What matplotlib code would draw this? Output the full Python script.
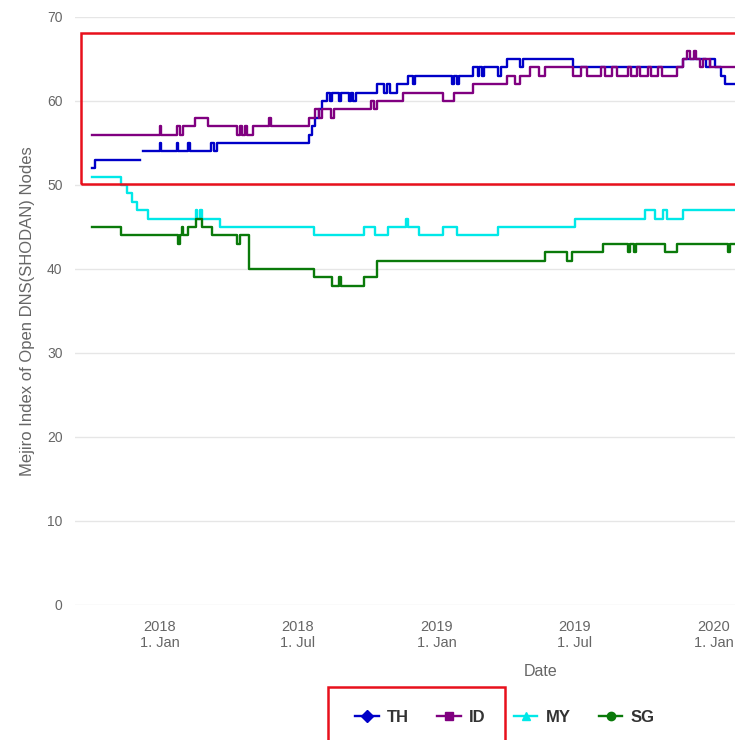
import numpy as np
import pandas as pd
import matplotlib
matplotlib.use("Agg")
import matplotlib.pyplot as plt
from matplotlib.lines import Line2D
from matplotlib.patches import Rectangle

plt.rcParams['font.family'] = ['Liberation Sans', 'DejaVu Sans']

# step change points (date, value); NaN marks a gap in the data
th_dates = ["2017-10-04", "2017-10-08", "2017-12-06", "2017-12-10", "2018-01-01", "2018-01-03",
            "2018-01-23", "2018-01-25", "2018-02-07", "2018-02-09", "2018-03-09", "2018-03-13",
            "2018-03-17", "2018-07-16", "2018-07-20", "2018-07-25", "2018-07-30", "2018-08-03",
            "2018-08-09", "2018-08-13", "2018-08-16", "2018-08-25", "2018-08-28", "2018-09-07",
            "2018-09-10", "2018-09-13", "2018-09-16", "2018-10-14", "2018-10-23", "2018-10-27",
            "2018-10-31", "2018-11-09", "2018-11-24", "2018-11-30", "2018-12-03", "2019-01-21",
            "2019-01-24", "2019-01-27", "2019-01-30", "2019-02-18", "2019-02-24", "2019-02-26",
            "2019-03-02", "2019-03-04", "2019-03-23", "2019-03-26", "2019-04-04", "2019-04-20",
            "2019-04-24", "2019-06-30", "2019-11-22", "2019-12-22", "2019-12-27", "2020-01-03",
            "2020-01-10", "2020-01-16", "2020-01-31"]
th_values = [52, 53, np.nan, 54, 55, 54,
             55, 54, 55, 54, 55, 54,
             55, 56, 57, 58, 59, 60,
             61, 60, 61, 60, 61, 60,
             61, 60, 61, 62, 61, 62,
             61, 62, 63, 62, 63, 62,
             63, 62, 63, 64, 63, 64,
             63, 64, 63, 64, 65, 64,
             65, 64, 65, 64, 65, 64,
             63, 62, 62]

id_dates = ["2017-10-04", "2018-01-01", "2018-01-03", "2018-01-23", "2018-01-28", "2018-02-01",
            "2018-02-16", "2018-03-05", "2018-04-12", "2018-04-16", "2018-04-19", "2018-04-23",
            "2018-04-26", "2018-05-04", "2018-05-25", "2018-05-27", "2018-07-16", "2018-07-25",
            "2018-07-30", "2018-08-03", "2018-08-14", "2018-08-18", "2018-10-06", "2018-10-10",
            "2018-10-14", "2018-11-18", "2019-01-09", "2019-01-24", "2019-02-18", "2019-04-04",
            "2019-04-14", "2019-04-20", "2019-05-04", "2019-05-15", "2019-05-24", "2019-06-30",
            "2019-07-10", "2019-07-18", "2019-08-05", "2019-08-10", "2019-08-20", "2019-08-26",
            "2019-09-10", "2019-09-14", "2019-09-22", "2019-09-26", "2019-10-06", "2019-10-10",
            "2019-10-20", "2019-10-25", "2019-11-14", "2019-11-22", "2019-11-27", "2019-12-01",
            "2019-12-06", "2019-12-08", "2019-12-14", "2019-12-18", "2019-12-27", "2020-01-31"]
id_values = [56, 57, 56, 57, 56, 57,
             58, 57, 56, 57, 56, 57,
             56, 57, 58, 57, 58, 59,
             58, 59, 58, 59, 60, 59,
             60, 61, 60, 61, 62, 63,
             62, 63, 64, 63, 64, 63,
             64, 63, 64, 63, 64, 63,
             64, 63, 64, 63, 64, 63,
             64, 63, 64, 65, 66, 65,
             66, 65, 64, 65, 64, 64]

my_dates = ["2017-10-04", "2017-11-10", "2017-11-19", "2017-11-25", "2017-12-02", "2017-12-16",
            "2018-02-17", "2018-02-19", "2018-02-23", "2018-02-26", "2018-03-21", "2018-07-23",
            "2018-09-27", "2018-10-12", "2018-10-29", "2018-11-21", "2018-11-24", "2018-12-08",
            "2019-01-09", "2019-01-28", "2019-03-23", "2019-07-02", "2019-10-03", "2019-10-16",
            "2019-10-26", "2019-11-01", "2019-11-22", "2020-01-31"]
my_values = [51, 50, 49, 48, 47, 46,
             47, 46, 47, 46, 45, 44,
             45, 44, 45, 46, 45, 44,
             45, 44, 45, 46, 47, 46,
             47, 46, 47, 47]

sg_dates = ["2017-10-04", "2017-11-11", "2018-01-25", "2018-01-27", "2018-01-30", "2018-02-01",
            "2018-02-07", "2018-02-17", "2018-02-26", "2018-03-11", "2018-04-12", "2018-04-16",
            "2018-04-29", "2018-07-23", "2018-08-16", "2018-08-25", "2018-08-28", "2018-09-27",
            "2018-10-14", "2019-05-24", "2019-06-22", "2019-06-28", "2019-08-08", "2019-09-10",
            "2019-09-13", "2019-09-18", "2019-09-21", "2019-10-29", "2019-11-14", "2020-01-20",
            "2020-01-22", "2020-01-31"]
sg_values = [45, 44, 43, 44, 45, 44,
             45, 46, 45, 44, 43, 44,
             40, 39, 38, 39, 38, 39,
             41, 42, 41, 42, 43, 42,
             43, 42, 43, 42, 43, 42,
             43, 43]

series_names = ["TH", "ID", "MY", "SG"]
series_colors = ["#0000c8", "#800080", "#00e8e8", "#0a7a0a"]
series_markers = ["D", "s", "^", "o"]

tick_dates = ["2018-01-01", "2018-07-01", "2019-01-01", "2019-07-01", "2020-01-01"]
tick_labels = ["2018\n1. Jan", "2018\n1. Jul", "2019\n1. Jan", "2019\n1. Jul", "2020\n1. Jan"]
y_ticks = [0, 10, 20, 30, 40, 50, 60, 70]

fig = plt.figure(figsize=(7.35, 7.40), dpi=100)
ax = fig.add_axes([75 / 735, 135 / 740, 660 / 735, 588 / 740])

all_data = [(th_dates, th_values), (id_dates, id_values), (my_dates, my_values), (sg_dates, sg_values)]
for (d, v), name, col in zip(all_data, series_names, series_colors):
    ax.plot(pd.to_datetime(d), v, drawstyle="steps-post", color=col, lw=1.7, label=name)

ax.set_xlim(pd.Timestamp("2017-09-11"), pd.Timestamp("2020-01-29"))
ax.set_ylim(0, 70)
ax.set_yticks(y_ticks)
ax.set_xticks(pd.to_datetime(tick_dates))
ax.set_xticklabels(tick_labels)
ax.tick_params(axis="x", colors="#666666", labelsize=10.5, length=0, pad=11)
ax.tick_params(axis="y", colors="#666666", labelsize=10, length=0, pad=9)
ax.grid(axis="y", color="#e6e6e6", lw=1)
for s in ax.spines.values():
    s.set_visible(False)

ax.set_xlabel("Date", color="#666666", fontsize=11.5, va="center")
ax.xaxis.set_label_coords((541 - 75) / 660, (605 - 672) / 588)
ax.set_ylabel("Mejiro Index of Open DNS(SHODAN) Nodes", color="#666666", fontsize=12, va="center")
ax.yaxis.set_label_coords((28 - 75) / 660, 0.5)

handles = [Line2D([], [], color=c, marker=m, markersize=6, lw=1.7)
           for c, m in zip(series_colors, series_markers)]
leg = fig.legend(handles, series_names, loc="center", bbox_to_anchor=(505 / 735, 1 - 717 / 740),
                 ncol=4, frameon=False, handlelength=1.4, handletextpad=0.5, columnspacing=1.7,
                 prop={"weight": "bold", "size": 12})
for t in leg.get_texts():
    t.set_color("#333333")

# red highlight boxes
fig.patches.append(Rectangle((81 / 735, 1 - 184 / 740), 1.0, 151 / 740, transform=fig.transFigure,
                             fill=False, edgecolor="#e8101c", lw=1.8, clip_on=False))
fig.patches.append(Rectangle((328 / 735, -0.01), 177 / 735, (740 - 687) / 740 + 0.01,
                             transform=fig.transFigure, fill=False, edgecolor="#e8101c", lw=1.8,
                             clip_on=False))

fig.savefig("out.png", dpi=100)
